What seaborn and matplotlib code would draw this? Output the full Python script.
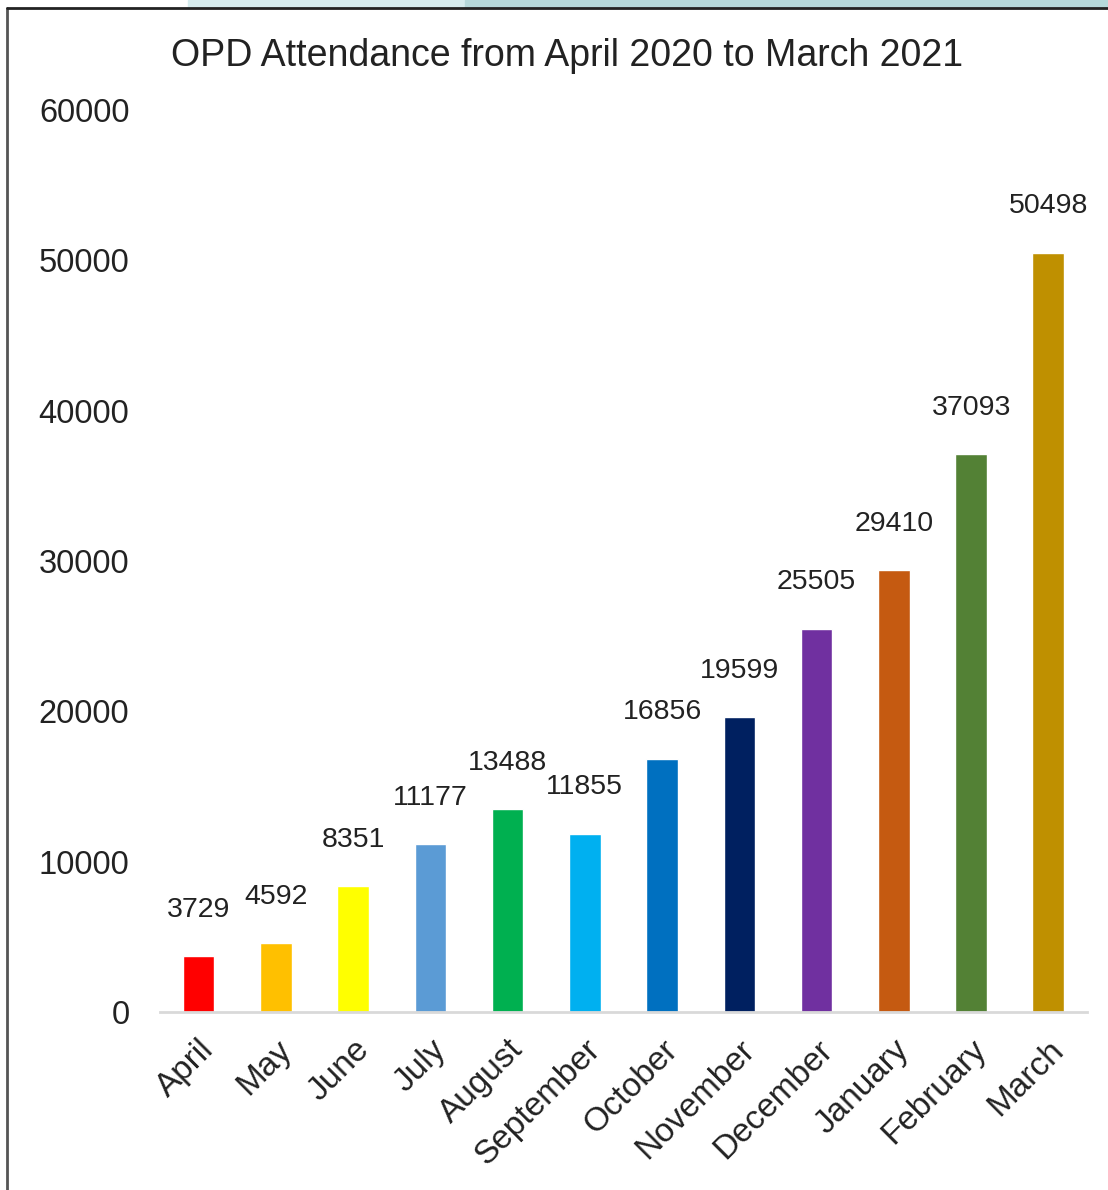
import matplotlib
matplotlib.use("Agg")
import matplotlib.pyplot as plt
import seaborn as sns
import pandas as pd
from matplotlib.patches import Rectangle
from matplotlib.lines import Line2D

months = ["April", "May", "June", "July", "August", "September", "October",
          "November", "December", "January", "February", "March"]
attendance = [3729, 4592, 8351, 11177, 13488, 11855, 16856, 19599, 25505,
              29410, 37093, 50498]
bar_colors = ["#FF0000", "#FFC000", "#FFFF00", "#5B9BD5", "#00B050", "#00B0F0",
              "#0070C0", "#002060", "#7030A0", "#C55A11", "#538135", "#BF9000"]
y_ticks = [0, 10000, 20000, 30000, 40000, 50000, 60000]

sns.set_theme(style="white")
plt.rcParams['font.family'] = ['Liberation Sans', 'DejaVu Sans']

d = pd.DataFrame({'Month': months, 'Value': attendance})

fig = plt.figure(figsize=(11.08, 11.90), dpi=100)
ax = fig.add_axes([0.1444, 0.1496, 0.981 - 0.1444, 0.9076 - 0.1496])

sns.barplot(x="Month", y="Value", data=d, hue="Month", palette=bar_colors,
            legend=False, width=0.41, saturation=1, ax=ax)

for i, v in enumerate(attendance):
    ax.annotate(str(v), (i, v), xytext=(0, 24), textcoords="offset points",
                ha="center", va="bottom", fontsize=20.5, color="#222222")

ax.set_ylim(0, 60000)
ax.set_xlim(-0.5, len(months) - 0.5)
ax.set_yticks(y_ticks)
ax.set_yticklabels([str(t) for t in y_ticks], fontsize=23.5, color="#222222")
ax.tick_params(axis="y", length=0, pad=22)
ax.set_xticks(range(len(months)))
ax.set_xticklabels(months, rotation=45, ha="right", rotation_mode="anchor",
                   fontsize=24, color="#222222")
ax.tick_params(axis="x", length=0, pad=16)
ax.set_xlabel("")
ax.set_ylabel("")
for s in ["top", "right", "left"]:
    ax.spines[s].set_visible(False)
ax.spines["bottom"].set_color("#d9d9d9")
ax.spines["bottom"].set_linewidth(2)

fig.text(0.512, 0.953, "OPD Attendance from April 2020 to March 2021",
         ha="center", va="center", fontsize=27, color="#222222")

# slide decoration and frame
fig.patches.append(Rectangle((0.17, 0.993), 0.25, 0.007, transform=fig.transFigure,
                             color="#d6ecee", zorder=0))
fig.patches.append(Rectangle((0.42, 0.993), 0.58, 0.007, transform=fig.transFigure,
                             color="#b5d8da", zorder=0))
fig.lines.append(Line2D([0.0065, 0.0065], [0, 0.993], transform=fig.transFigure,
                        color="#555555", lw=2))
fig.lines.append(Line2D([0.0065, 1], [0.993, 0.993], transform=fig.transFigure,
                        color="#222222", lw=2))

fig.savefig("out.png", dpi=100)
